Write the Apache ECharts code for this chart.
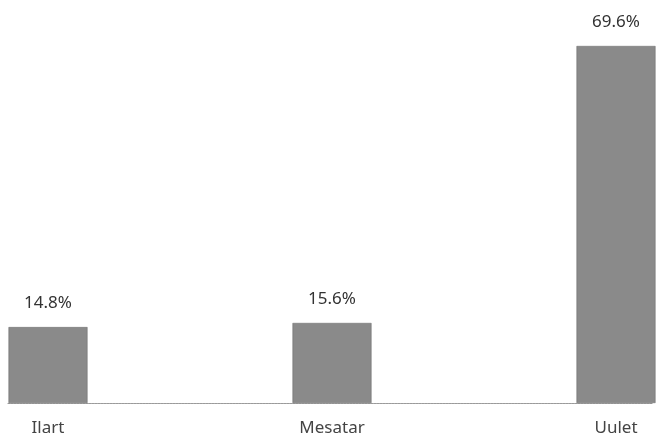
<!DOCTYPE html>
<html>
<head>
<meta charset="utf-8">
<script src="https://cdn.jsdelivr.net/npm/echarts@6/dist/echarts.min.js"></script>
<style>html,body{margin:0;padding:0;background:#fff;}#c{width:657px;height:441px;}</style>
</head>
<body>
<div id="c"></div>
<script>
const categories = ['Ilart', 'Mesatar', 'Uulet'];
const values = [14.8, 15.6, 69.6];
const valueLabels = ['14.8%', '15.6%', '69.6%'];

const chart = echarts.init(document.getElementById('c'));
chart.setOption({
  animation: false,
  backgroundColor: '#fff',
  grid: [
    { left: 48, right: 41, top: 46, bottom: 38 },
    { left: 8, right: 4, top: 46, bottom: 38 }
  ],
  xAxis: [{
    type: 'category',
    gridIndex: 0,
    data: categories,
    boundaryGap: false,
    axisLine: { show: false },
    axisTick: { show: false },
    axisLabel: { color: '#444', fontSize: 17, fontFamily: 'Noto Sans', margin: 17, interval: 0 }
  }, {
    type: 'category',
    gridIndex: 1,
    data: categories,
    axisLine: { show: true, lineStyle: { color: '#9a9a9a', width: 1.2, type: [2, 1] } },
    axisTick: { show: false },
    axisLabel: { show: false }
  }],
  yAxis: [{
    type: 'value', gridIndex: 0, min: 0, max: 69.6, show: false,
    splitLine: { show: false }
  }, {
    type: 'value', gridIndex: 1, min: 0, max: 69.6, show: false,
    splitLine: { show: false }
  }],
  series: [{
    type: 'bar',
    xAxisIndex: 0, yAxisIndex: 0,
    data: values,
    barWidth: 79,
    z: 3,
    itemStyle: { color: '#8a8a8a', borderColor: '#666', borderWidth: 0.5 },
    label: {
      show: true, position: 'top', distance: 15,
      color: '#333', fontSize: 17, fontFamily: 'Noto Sans',
      formatter: p => valueLabels[p.dataIndex]
    }
  }]
});
</script>
</body>
</html>
